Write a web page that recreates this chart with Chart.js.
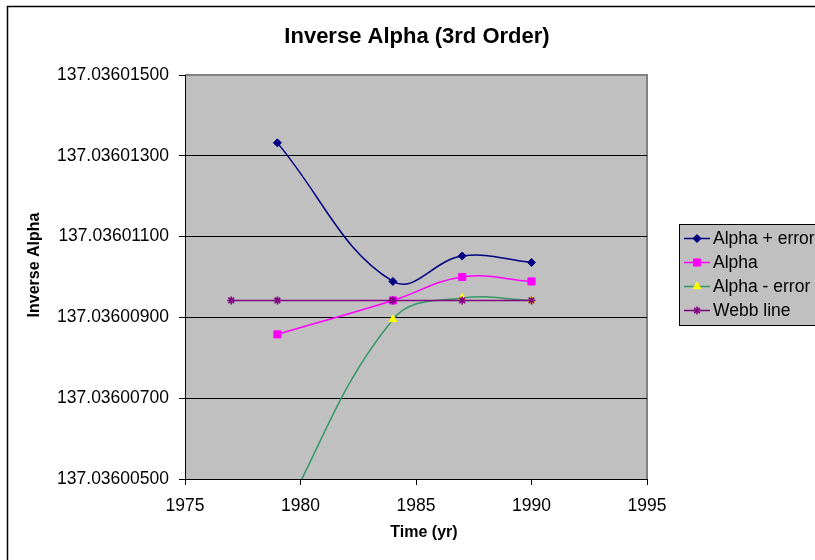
<!DOCTYPE html>
<html>
<head>
<meta charset="utf-8">
<title>Inverse Alpha (3rd Order)</title>
<script src="https://cdn.jsdelivr.net/npm/chart.js@4"></script>
<style>
    body { margin: 0; background: #fff; }
    #wrap { width: 815px; height: 560px; }
</style>
</head>
<body>
<div id="wrap"><canvas id="myChart" width="815" height="560"></canvas></div>
<script>
// datos
const years = [1979, 1984, 1987, 1990];
const webbYears = [1977, 1979, 1984, 1987, 1990];
const alphaPlusError = [137.03601332, 137.03600989, 137.03601052, 137.03601036];
const alpha = [137.03600858, 137.03600942, 137.03601000, 137.03600989];
const alphaMinusError = [137.03600384, 137.03600895, 137.03600948, 137.03600942];
const webbLine = [137.03600942, 137.03600942, 137.03600942, 137.03600942, 137.03600942];
const yTicks = [137.036005, 137.036007, 137.036009, 137.036011, 137.036013, 137.036015];
const xTicks = [1975, 1980, 1985, 1990, 1995];
const seriesNames = ['Alpha + error', 'Alpha', 'Alpha - error', 'Webb line'];
const chartTitle = 'Inverse Alpha (3rd Order)';

const FONT = "'Liberation Sans', Arial, sans-serif";

function puntos(xs, ys) {
    return xs.map((x, i) => ({ x: x, y: ys[i] }));
}

// fondo gris del area de trazado y marco exterior
const fondoPlugin = {
    id: 'fondo',
    beforeDraw(chart) {
        const { ctx, chartArea: a } = chart;
        ctx.save();
        ctx.fillStyle = '#c0c0c0';
        ctx.fillRect(a.left, a.top, a.right - a.left, a.bottom - a.top);
        ctx.strokeStyle = '#808080';
        ctx.lineWidth = 2;
        ctx.beginPath();
        ctx.moveTo(a.left, a.top);
        ctx.lineTo(a.right, a.top);
        ctx.lineTo(a.right, a.bottom);
        ctx.stroke();
        ctx.strokeStyle = '#000';
        ctx.lineWidth = 1.5;
        ctx.strokeRect(7.5, 6.5, 900, 900);
        ctx.restore();
    }
};

// titulo, titulos de ejes y leyenda estilo Excel
const extrasPlugin = {
    id: 'extras',
    afterDraw(chart) {
        const ctx = chart.ctx;
        ctx.save();
        ctx.fillStyle = '#000';
        ctx.textAlign = 'center';
        ctx.textBaseline = 'middle';
        ctx.font = 'bold 22px ' + FONT;
        ctx.fillText(chartTitle, 417, 37);
        ctx.font = 'bold 16px ' + FONT;
        ctx.fillText('Time (yr)', 424, 533);
        ctx.translate(35, 265);
        ctx.rotate(-Math.PI / 2);
        ctx.fillText('Inverse Alpha', 0, 0);
        ctx.restore();

        // leyenda
        ctx.save();
        ctx.fillStyle = '#c0c0c0';
        ctx.fillRect(679.5, 224.5, 200, 101);
        ctx.strokeStyle = '#000';
        ctx.lineWidth = 1;
        ctx.strokeRect(679.5, 224.5, 200, 101);
        chart.data.datasets.forEach((ds, i) => {
            const y = 238.5 + i * 24;
            ctx.strokeStyle = ds.borderColor;
            ctx.lineWidth = 1.5;
            ctx.beginPath();
            ctx.moveTo(684, y);
            ctx.lineTo(710, y);
            ctx.stroke();
            ctx.fillStyle = ds.pointBackgroundColor;
            ctx.strokeStyle = ds.pointBorderColor;
            ctx.lineWidth = ds.pointBorderWidth;
            Chart.helpers.drawPoint(ctx, {
                pointStyle: ds.pointStyle,
                radius: ds.pointRadius,
                rotation: 0,
                borderWidth: ds.pointBorderWidth
            }, 697, y);
            ctx.fillStyle = '#000';
            ctx.font = '17.5px ' + FONT;
            ctx.textAlign = 'left';
            ctx.textBaseline = 'middle';
            ctx.fillText(ds.label, 713, y + 1);
        });
        ctx.restore();
    }
};

const ctx = document.getElementById('myChart').getContext('2d');
new Chart(ctx, {
    type: 'line',
    data: {
        datasets: [{
            label: seriesNames[0],
            data: puntos(years, alphaPlusError),
            borderColor: '#000080',
            pointBackgroundColor: '#000080',
            pointBorderColor: '#000080',
            pointBorderWidth: 1,
            pointStyle: 'rectRot',
            pointRadius: 4,
            order: 3
        }, {
            label: seriesNames[1],
            data: puntos(years, alpha),
            borderColor: '#ff00ff',
            pointBackgroundColor: '#ff00ff',
            pointBorderColor: '#ff00ff',
            pointBorderWidth: 1,
            pointStyle: 'rect',
            pointRadius: 5,
            order: 2
        }, {
            label: seriesNames[2],
            data: puntos(years, alphaMinusError),
            borderColor: '#339966',
            pointBackgroundColor: '#ffff00',
            pointBorderColor: '#ffff00',
            pointBorderWidth: 1,
            pointStyle: 'triangle',
            pointRadius: 4.5,
            order: 1
        }, {
            label: seriesNames[3],
            data: puntos(webbYears, webbLine),
            borderColor: '#800080',
            pointBackgroundColor: '#800080',
            pointBorderColor: '#800080',
            pointBorderWidth: 1.5,
            pointStyle: 'star',
            pointRadius: 4,
            order: 0
        }]
    },
    options: {
        responsive: false,
        animation: false,
        devicePixelRatio: 1,
        layout: { padding: { left: 0, top: 75, right: 168, bottom: 0 } },
        elements: {
            line: { borderWidth: 1.5, tension: 0.4, capBezierPoints: false, fill: false }
        },
        plugins: {
            legend: { display: false },
            tooltip: { enabled: false },
            title: { display: false }
        },
        scales: {
            x: {
                type: 'linear',
                min: 1975,
                max: 1995,
                afterBuildTicks: (axis) => { axis.ticks = xTicks.map(v => ({ value: v })); },
                afterFit: (scale) => { scale.height = 81; },
                grid: { drawOnChartArea: false, color: '#000', tickLength: 6 },
                border: { color: '#000', width: 1 },
                ticks: {
                    color: '#000',
                    padding: 11,
                    font: { family: FONT, size: 17.5 },
                    callback: (v) => String(v)
                }
            },
            y: {
                type: 'linear',
                min: yTicks[0],
                max: yTicks[yTicks.length - 1],
                afterBuildTicks: (axis) => { axis.ticks = yTicks.map(v => ({ value: v })); },
                afterFit: (scale) => { scale.width = 185; },
                grid: {
                    color: (c) => c.index === yTicks.length - 1 ? '#808080' : '#000',
                    tickColor: '#000',
                    tickLength: 6
                },
                border: { color: '#000', width: 1 },
                ticks: {
                    color: '#000',
                    padding: 10,
                    font: { family: FONT, size: 17.5 },
                    callback: (v) => Number(v).toFixed(8)
                }
            }
        }
    },
    plugins: [fondoPlugin, extrasPlugin]
});
</script>
</body>
</html>
